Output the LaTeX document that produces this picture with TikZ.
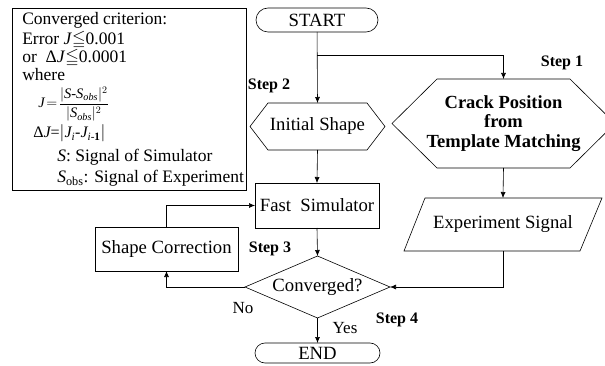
\documentclass[tikz,border=0pt]{standalone}
\usepackage{amsmath,amssymb}
\usepackage{fontspec}
\setmainfont{Liberation Serif}
\usetikzlibrary{arrows.meta,shapes.misc}
\newcommand{\fsz}[1]{\fontsize{#1}{#1}\selectfont}
\begin{document}
\begin{tikzpicture}[x=1pt,y=-1pt,
  line width=0.6pt,
  arr/.style={-{Latex[length=6pt,width=5pt]}},
  plain/.style={inner sep=0pt,outer sep=0pt,font=\fsz{18.7}},
  boxnode/.style={plain,draw},
  steplbl/.style={inner sep=0pt,font=\fsz{16}\bfseries},
  leg/.style={inner sep=0pt,anchor=base west,font=\fsz{17.5}},
  lbl/.style={inner sep=0pt,font=\fsz{17}}]
\useasboundingbox (0,0) rectangle (605,366);
% legend
\node[draw,minimum width=234pt,minimum height=182pt,inner sep=0pt] (legend) at (129,99) {};
\node[leg] (l1) at (22,25) {Converged criterion:};
\node[leg] (l2) at (22,45) {Error \textit{J}$\leqq$0.001};
\node[leg] (l3) at (22,63) {or \ Δ\textit{J}$\leqq$0.0001};
\node[leg] (l4) at (22,81) {where};
\node[leg,font=\fsz{14.5}] (l5) at (38,108) {$\mathit{J}\!=\!\dfrac{|\mathit{S}\text{-}\mathit{S}_{\mathit{obs}}|^{2}}{|\mathit{S}_{\mathit{obs}}|^{2}}$};
\node[leg,font=\fsz{16}] (l6) at (33,138) {Δ$\mathit{J}$=$|\mathit{J}_{\mathit{i}}\text{-}\mathit{J}_{\mathit{i}\text{-}\mathbf{1}}|$};
\node[leg] (l7) at (57,162) {\textit{S}: Signal of Simulator};
\node[leg] (l8) at (57,183) {\textit{S}$_{\text{obs}}$: Signal of Experiment};
% flow nodes
\node[plain,draw,rounded rectangle,minimum width=122pt,minimum height=24pt] (start) at (317,20) {START};
\node[plain,minimum width=135pt,minimum height=47pt] (init) at (317.5,126.5) {Initial Shape};
\draw (init.west) -- ([xshift=18pt]init.north west) -- ([xshift=-18pt]init.north east) -- (init.east) -- ([xshift=-18pt]init.south east) -- ([xshift=18pt]init.south west) -- cycle;
\node[plain,minimum width=223pt,minimum height=89pt,align=center,font=\fsz{18.5}\bfseries] (crack) at (503.5,123.5) {Crack Position\\[1pt]from\\[1pt]Template Matching};
\draw (crack.west) -- ([xshift=45pt]crack.north west) -- ([xshift=-45pt]crack.north east) -- (crack.east) -- ([xshift=-45pt]crack.south east) -- ([xshift=45pt]crack.south west) -- cycle;
\node[boxnode,minimum width=124pt,minimum height=45pt] (fast) at (317,205.5) {Fast\ \ Simulator};
\node[boxnode,minimum width=143pt,minimum height=44pt] (corr) at (166.5,249) {Shape Correction};
\node[plain,minimum width=198pt,minimum height=53pt] (exp) at (503,224.5) {Experiment Signal};
\draw (exp.south west) -- ([xshift=-22pt]exp.south east) -- (exp.north east) -- ([xshift=21pt]exp.north west) -- cycle;
\node[plain,minimum width=145pt,minimum height=62pt] (conv) at (317.5,287) {Converged?};
\draw (conv.west) -- (conv.north) -- (conv.east) -- (conv.south) -- cycle;
\node[plain,draw,rounded rectangle,minimum width=125pt,minimum height=20pt] (end) at (317.5,353) {END};
% connectors
\coordinate (branch) at (317,55);
\draw[arr] (start) -- (init.north);
\draw[arr] (branch) -| (crack.north);
\draw[arr] (init.south) -- (fast.north);
\draw[arr] (crack.south) -- (exp.north);
\draw[arr] (fast.south) -- (conv.north);
\draw[arr] (exp.south) |- (conv.east);
\draw[arr] (conv.west) -| (corr.south);
\draw[arr] (corr.north) |- (fast.west);
\draw[arr] (conv.south) -- (end.north);
% labels
\node[steplbl] (s1) at (562,63) {Step 1};
\node[steplbl] (s2) at (269,86) {Step 2};
\node[steplbl] (s3) at (270,249) {Step 3};
\node[steplbl] (s4) at (397,320) {Step 4};
\node[lbl] (no) at (243,308) {No};
\node[lbl] (yes) at (345,328) {Yes};
\end{tikzpicture}
\end{document}
